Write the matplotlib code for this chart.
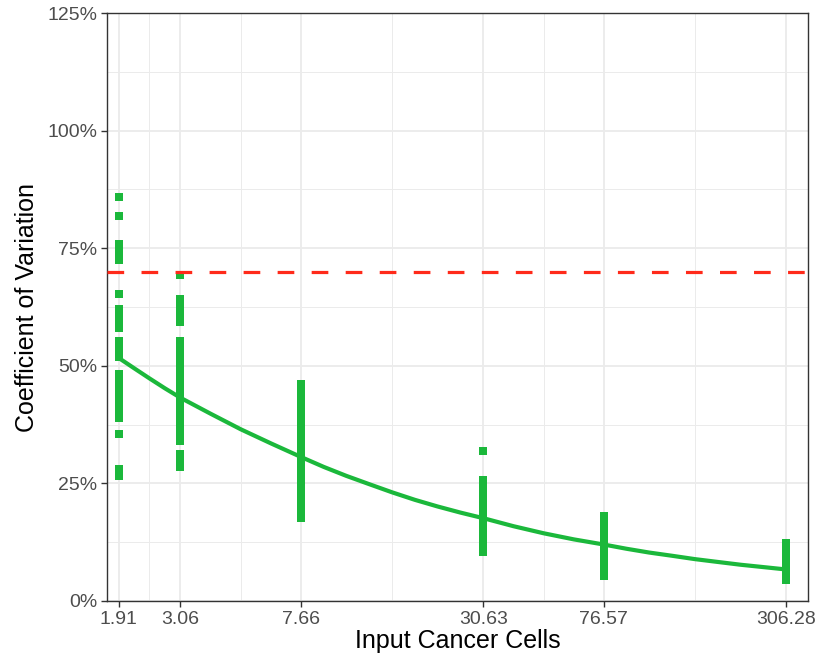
import numpy as np
import matplotlib
matplotlib.use('Agg')
import matplotlib.pyplot as plt
from matplotlib.ticker import FixedLocator, NullFormatter

plt.rcParams['font.family'] = ['Liberation Sans', 'DejaVu Sans']
plt.rcParams['lines.scale_dashes'] = False

# input cells (x positions) and the CV values (%)
cells = [1.91, 3.06, 7.66, 30.63, 76.57, 306.28]
cv_191 = [85.8, 81.8, 75.8, 74.6, 73.4, 72.4, 65.3, 62.0, 60.8, 59.5, 58.0,
          55.2, 54.0, 52.8, 51.8, 48.3, 47.0, 45.6, 44.2, 43.0, 41.6, 40.2,
          39.0, 35.6, 28.1, 26.6]
cv_306 = [69.2, 64.3, 63.0, 61.5, 60.4, 59.3, 55.2, 54.0, 52.6, 51.2, 50.0,
          48.6, 47.2, 45.8, 44.5, 43.2, 41.8, 40.5, 39.2, 37.8, 36.5, 35.2,
          34.1, 31.3, 29.8, 28.4]
cv_766 = [46.2, 44.8, 43.3, 41.9, 40.4, 39.0, 37.5, 36.1, 34.6, 33.2, 31.7,
          30.3, 28.8, 27.4, 25.9, 24.5, 23.0, 21.6, 20.1, 18.7, 17.6]
cv_3063 = [31.8, 25.8, 24.5, 23.1, 21.8, 20.4, 19.0, 17.7, 16.3, 15.0, 13.6,
           12.2, 10.5]
cv_7657 = [18.1, 16.8, 15.5, 14.2, 12.9, 11.6, 10.3, 9.0, 7.8, 6.6, 5.4]
cv_30628 = [12.3, 11.1, 9.9, 8.7, 7.5, 6.3, 5.2, 4.4]
columns = [cv_191, cv_306, cv_766, cv_3063, cv_7657, cv_30628]

# fitted curve, read at several x positions along it
fit_x = [1.91, 2.16, 2.42, 2.72, 3.06, 3.85, 4.84, 6.09, 7.66, 9.1, 10.8,
         12.9, 15.3, 18.2, 21.6, 25.7, 30.63, 38.5, 48.4, 60.9, 76.57,
         91.0, 108.0, 129.0, 153.0, 182.0, 217.0, 258.0, 306.28]
fit_y = [51.7, 49.4, 47.3, 45.2, 43.2, 39.8, 36.5, 33.5, 30.6, 28.5, 26.6,
         24.8, 23.1, 21.5, 20.1, 18.8, 17.6, 15.9, 14.4, 13.1, 12.0,
         11.1, 10.3, 9.6, 8.9, 8.3, 7.7, 7.2, 6.7]

threshold = 70

GREEN = '#1BB83B'
RED = '#FF2A1A'
GRID = '#EBEBEB'
BORDER = '#333333'
TICK_TXT = '#4D4D4D'

fig = plt.figure(figsize=(8.2, 6.61), dpi=100)
ax = fig.add_axes([0.1305, 0.0908, 0.855, 0.8895])

for x, vals in zip(cells, columns):
    ax.plot([x] * len(vals), vals, 's', color=GREEN, ms=5.9, mew=0, zorder=3)

ax.plot(fit_x, fit_y, color=GREEN, lw=3.0, zorder=4, solid_capstyle='butt',
        solid_joinstyle='round')
hl = ax.axhline(threshold, color=RED, lw=2.3, zorder=5)
hl.set_dashes([12, 12.5])

ax.set_xscale('log')
ax.set_xlim(1.75, 362)
ax.set_ylim(0, 125)

ax.xaxis.set_major_locator(FixedLocator(cells))
ax.set_xticklabels([f'{c:.2f}' for c in cells])
lc = np.log10(cells)
ax.xaxis.set_minor_locator(FixedLocator(10 ** ((lc[:-1] + lc[1:]) / 2)))
ax.xaxis.set_minor_formatter(NullFormatter())

ax.yaxis.set_major_locator(FixedLocator([0, 25, 50, 75, 100, 125]))
ax.set_yticklabels([f'{v}%' for v in [0, 25, 50, 75, 100, 125]])
ax.yaxis.set_minor_locator(FixedLocator([12.5, 37.5, 62.5, 87.5, 112.5]))

ax.grid(True, which='major', color=GRID, lw=1.3, zorder=0)
ax.grid(True, which='minor', color=GRID, lw=0.7, zorder=0)
ax.set_axisbelow(True)

for s in ax.spines.values():
    s.set_color(BORDER)
    s.set_linewidth(1.0)

ax.tick_params(which='major', length=4.5, width=1.0, color=BORDER,
               labelcolor=TICK_TXT, labelsize=14, pad=2.5)
ax.tick_params(which='minor', length=0)

ax.set_xlabel('Input Cancer Cells', fontsize=18, color='black', labelpad=1)
ax.set_ylabel('Coefficient of Variation', fontsize=18, color='black', labelpad=6)

fig.savefig('out.png', dpi=100)
